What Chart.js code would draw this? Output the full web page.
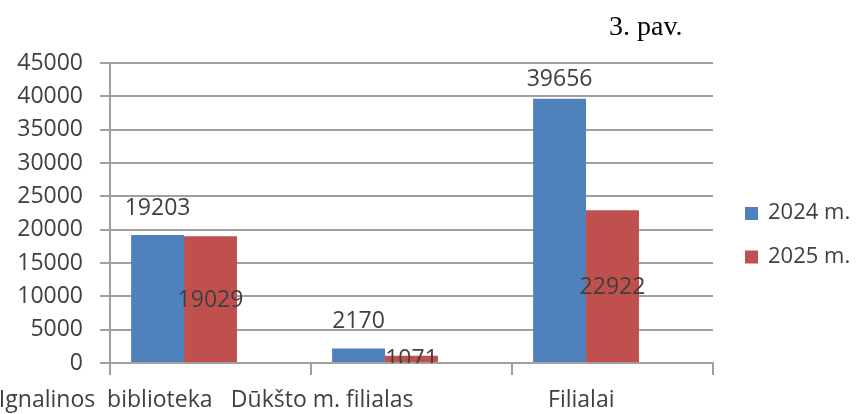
<!DOCTYPE html>
<html>
<head>
<meta charset="utf-8">
<script src="https://cdn.jsdelivr.net/npm/chart.js@4/dist/chart.umd.min.js"></script>
<style>
  html, body { margin: 0; padding: 0; background: #fff; }
  #wrap { width: 856px; height: 414px; position: relative; }
</style>
</head>
<body>
<div id="wrap"><canvas id="cht"></canvas></div>
<script>
const categories = ['Ignalinos  biblioteka', 'Dūkšto m. filialas', 'Filialai'];
const seriesNames = ['2024 m.', '2025 m.'];
const values2024 = [19203, 2170, 39656];
const values2025 = [19029, 1071, 22922];
const emptySeries = [null, null, null]; // original had a 3rd empty series, it pushes bars left
const yTicks = [0, 5000, 10000, 15000, 20000, 25000, 30000, 35000, 40000, 45000];
const chartTitle = '3. pav.';

const blue = '#4f81bd';
const red = '#c0504d';
const textColor = '#404040';
const gridColor = '#a0a0a0';
const font = '"Open Sans", sans-serif';

const extras = {
    id: 'extras',
    afterDatasetsDraw(chart) {
        const ctx = chart.ctx;
        const area = chart.chartArea;
        const xs = chart.scales.x;

        ctx.save();
        ctx.font = '23px ' + font;
        ctx.fillStyle = textColor;
        ctx.textAlign = 'center';
        ctx.textBaseline = 'middle';

        // 2024 labels above the bars, kept inside plot
        chart.getDatasetMeta(0).data.forEach((bar, i) => {
            let y = Math.max(bar.y - 27, area.top + 16);
            ctx.fillText(values2024[i], bar.x, y);
        });

        // 2025 labels in the middle of bar, clipped at the axis
        ctx.save();
        ctx.beginPath();
        ctx.rect(area.left, area.top, area.right - area.left, area.bottom - area.top);
        ctx.clip();
        chart.getDatasetMeta(1).data.forEach((bar, i) => {
            ctx.fillText(values2025[i], bar.x, (bar.y + bar.base) / 2 + 1);
        });
        ctx.restore();

        // category labels, right aligned to category centre
        ctx.textAlign = 'right';
        ctx.textBaseline = 'alphabetic';
        categories.forEach((c, i) => {
            ctx.fillText(c, xs.getPixelForValue(i) + 2, xs.bottom + 32);
        });

        // legend
        ctx.font = '22px ' + font;
        ctx.textAlign = 'left';
        ctx.textBaseline = 'middle';
        const colors = [blue, red];
        seriesNames.forEach((name, i) => {
            let y = 213 + i * 43.5;
            ctx.fillStyle = colors[i];
            ctx.fillRect(area.right + 32, y - 6, 13, 13);
            ctx.fillStyle = textColor;
            ctx.fillText(name, area.right + 55, y);
        });

        // title
        ctx.font = '28px "Liberation Serif", serif';
        ctx.fillStyle = '#000';
        ctx.textBaseline = 'alphabetic';
        ctx.fillText(chartTitle, 609, 35);
        ctx.restore();
    }
};

const cht = document.getElementById('cht');
const chart = new Chart(cht, {
    type: 'bar',
    data: {
        labels: categories,
        datasets: [
            { label: seriesNames[0], data: values2024, backgroundColor: blue },
            { label: seriesNames[1], data: values2025, backgroundColor: red },
            { label: '', data: emptySeries, backgroundColor: 'transparent' }
        ]
    },
    options: {
        responsive: true,
        maintainAspectRatio: false,
        animation: false,
        layout: {
            padding: { top: 63, right: 143, bottom: 39, left: 0 }
        },
        datasets: {
            bar: { categoryPercentage: 0.79, barPercentage: 1.0 }
        },
        plugins: {
            legend: { display: false },
            tooltip: { enabled: false }
        },
        scales: {
            x: {
                ticks: { display: false },
                grid: {
                    offset: true,
                    drawOnChartArea: false,
                    drawTicks: true,
                    tickLength: 12,
                    color: gridColor,
                    lineWidth: 2
                },
                border: { color: gridColor, width: 2 }
            },
            y: {
                min: 0,
                max: 45000,
                afterBuildTicks: (axis) => {
                    axis.ticks = yTicks.map(v => ({ value: v }));
                },
                afterFit: (axis) => {
                    axis.width = 110;
                },
                ticks: {
                    color: textColor,
                    padding: 17,
                    font: { family: font, size: 23 },
                    callback: (v) => String(v)
                },
                grid: {
                    color: gridColor,
                    lineWidth: 2,
                    tickLength: 10
                },
                border: { color: gridColor, width: 2 }
            }
        }
    },
    plugins: [extras]
});
</script>
</body>
</html>
